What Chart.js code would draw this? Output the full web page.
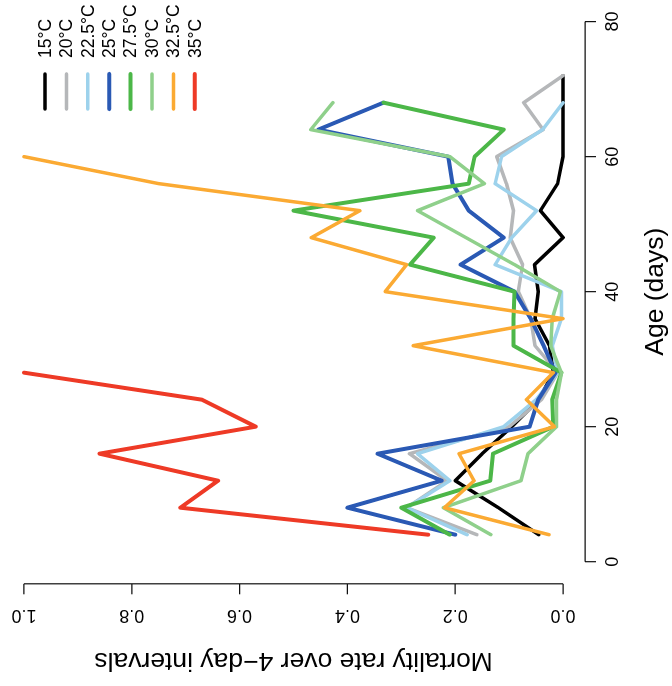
<!DOCTYPE html>
<html>
<head>
<meta charset="utf-8">
<title>Mortality by age and temperature</title>
<script src="https://cdn.jsdelivr.net/npm/chart.js@4.4.1/dist/chart.umd.min.js"></script>
<style>
  html, body { margin: 0; padding: 0; background: #fff; overflow: hidden; }
  /* the figure is printed turned a quarter turn to the left */
  #wrap {
    position: absolute; left: 0; top: 0;
    width: 686px; height: 672px;
    transform-origin: 0 0;
    transform: translateY(686px) rotate(-90deg);
  }
  #chart { display: block; }
</style>
</head>
<body>
<div id="wrap"><canvas id="chart" width="686" height="672"></canvas></div>
<script>
// Age (days) at the end of each 4-day interval
const ages = [4, 8, 12, 16, 20, 24, 28, 32, 36, 40, 44, 48, 52, 56, 60, 64, 68, 72];

// Mortality rate over 4-day intervals, one list per rearing temperature
const mort15 = [0.045, 0.12, 0.20, 0.15, 0.095, 0.045, 0.018, 0.025, 0.052, 0.046, 0.053, 0.0, 0.042, 0.01, 0.0, 0.0, 0.0, 0.0];
const mort20 = [0.16, 0.29, 0.215, 0.285, 0.10, 0.04, 0.01, 0.052, 0.06, 0.083, 0.075, 0.098, 0.092, 0.105, 0.123, 0.037, 0.073, 0.0];
const mort225 = [0.178, 0.29, 0.21, 0.27, 0.11, 0.05, 0.01, 0.02, 0.003, 0.003, 0.126, 0.095, 0.049, 0.126, 0.114, 0.038, 0.0];
const mort25 = [0.20, 0.40, 0.225, 0.344, 0.062, 0.046, 0.014, 0.036, 0.06, 0.09, 0.19, 0.11, 0.175, 0.205, 0.213, 0.454, 0.333];
const mort275 = [0.21, 0.30, 0.135, 0.13, 0.018, 0.02, 0.003, 0.092, 0.092, 0.09, 0.284, 0.24, 0.50, 0.175, 0.164, 0.11, 0.333];
const mort30 = [0.134, 0.222, 0.078, 0.065, 0.012, 0.012, 0.003, 0.023, 0.02, 0.005, 0.09, 0.18, 0.27, 0.146, 0.21, 0.468, 0.427];
const mort325 = [0.026, 0.22, 0.165, 0.193, 0.016, 0.068, 0.018, 0.278, 0.0, 0.33, 0.29, 0.467, 0.377, 0.75, 1.0];
const mort35 = [0.25, 0.71, 0.64, 0.86, 0.57, 0.67, 1.0];

const temps = ['15°C', '20°C', '22.5°C', '25°C', '27.5°C', '30°C', '32.5°C', '35°C'];
const series = [mort15, mort20, mort225, mort25, mort275, mort30, mort325, mort35];
const colors = ['#000000', '#b5b7b9', '#9dd2ec', '#2a59b4', '#4cb748', '#8fd08b', '#fbaa33', '#ee3a26'];
const widths = [3.5, 3.5, 3.5, 4, 4, 3.5, 3.5, 4];

const ageTicks = [0, 20, 40, 60, 80];
const rateTicks = [0, 0.2, 0.4, 0.6, 0.8, 1.0];

Chart.defaults.font.family = '"Liberation Sans", Arial, Helvetica, sans-serif';
Chart.defaults.color = '#000';

// R style axes: a line from first to last tick, ticks pointing outwards
const rAxes = {
    id: 'rAxes',
    afterDraw(chart) {
        const {ctx, chartArea, scales: {x, y}} = chart;
        ctx.save();
        ctx.strokeStyle = '#111';
        ctx.lineWidth = 1.2;
        ctx.beginPath();
        const yb = chartArea.bottom + 0.5;
        ctx.moveTo(x.getPixelForValue(ageTicks[0]), yb);
        ctx.lineTo(x.getPixelForValue(ageTicks[ageTicks.length - 1]), yb);
        ageTicks.forEach(t => {
            const px = x.getPixelForValue(t);
            ctx.moveTo(px, yb);
            ctx.lineTo(px, yb + 11);
        });
        const xl = chartArea.left - 0.5;
        ctx.moveTo(xl, y.getPixelForValue(rateTicks[0]));
        ctx.lineTo(xl, y.getPixelForValue(rateTicks[rateTicks.length - 1]));
        rateTicks.forEach(t => {
            const py = y.getPixelForValue(t);
            ctx.moveTo(xl, py);
            ctx.lineTo(xl - 10.5, py);
        });
        ctx.stroke();
        ctx.restore();
    }
};

// legend in the top right corner, lines left of the labels, no box
const rLegend = {
    id: 'rLegend',
    afterDraw(chart) {
        const {ctx, chartArea} = chart;
        const x0 = chartArea.right - 109;
        const x1 = chartArea.right - 74;
        const tx = chartArea.right - 58;
        ctx.save();
        ctx.font = '17.5px "Liberation Sans", Arial, Helvetica, sans-serif';
        ctx.textBaseline = 'middle';
        ctx.textAlign = 'left';
        ctx.lineCap = 'round';
        chart.data.datasets.forEach((ds, i) => {
            const yy = chartArea.top + 42.6 + i * 21.4;
            ctx.strokeStyle = ds.borderColor;
            ctx.lineWidth = ds.borderWidth;
            ctx.beginPath();
            ctx.moveTo(x0, yy);
            ctx.lineTo(x1, yy);
            ctx.stroke();
            ctx.fillStyle = '#000';
            ctx.fillText(ds.label, tx, yy + 1);
        });
        ctx.restore();
    }
};

const datasets = series.map((vals, i) => ({
    label: temps[i],
    data: vals.map((v, j) => ({x: ages[j], y: v})),
    borderColor: colors[i],
    backgroundColor: colors[i],
    borderWidth: widths[i],
    borderCapStyle: 'round',
    borderJoinStyle: 'round',
    pointRadius: 0,
    tension: 0,
    fill: false,
    order: series.length - i // later temperatures drawn on top, like R
}));

const ctx = document.getElementById('chart').getContext('2d');
const mortalityChart = new Chart(ctx, {
    type: 'line',
    data: { datasets: datasets },
    options: {
        responsive: false,
        animation: false,
        events: [],
        layout: { padding: { top: 2.4, right: 0, bottom: 0, left: 0 } },
        plugins: {
            legend: { display: false },
            tooltip: { enabled: false }
        },
        scales: {
            x: {
                type: 'linear',
                min: -3.2,
                max: 83.2,
                grid: { display: false, drawTicks: false },
                border: { display: false },
                afterBuildTicks: scale => { scale.ticks = ageTicks.map(v => ({value: v})); },
                afterFit: scale => {
                    scale.height = 87.4;
                    scale.paddingLeft = 0;
                    scale.paddingRight = 0;
                },
                ticks: {
                    autoSkip: false,
                    maxRotation: 0,
                    padding: 17.5,
                    font: { size: 18 },
                    color: '#000',
                    callback: v => String(v)
                },
                title: {
                    display: true,
                    text: 'Age (days)',
                    font: { size: 26.5, lineHeight: 1.2 },
                    color: '#000',
                    padding: { top: 0, bottom: 0 }
                }
            },
            y: {
                type: 'linear',
                min: -0.04,
                max: 1.04,
                grid: { display: false, drawTicks: false },
                border: { display: false },
                afterBuildTicks: scale => { scale.ticks = rateTicks.map(v => ({value: v})); },
                afterFit: scale => {
                    scale.width = 102.7;
                    scale.paddingTop = 0;
                    scale.paddingBottom = 0;
                },
                ticks: {
                    autoSkip: false,
                    minRotation: 90,
                    maxRotation: 90,
                    crossAlign: 'center',
                    padding: 19,
                    font: { size: 18 },
                    color: '#000',
                    callback: v => v.toFixed(1)
                },
                title: {
                    display: true,
                    text: 'Mortality rate over 4\u2212day intervals',
                    font: { size: 26.5, lineHeight: 1.2 },
                    color: '#000',
                    padding: { top: 10, bottom: 0 }
                }
            }
        }
    },
    plugins: [rAxes, rLegend]
});
</script>
</body>
</html>
